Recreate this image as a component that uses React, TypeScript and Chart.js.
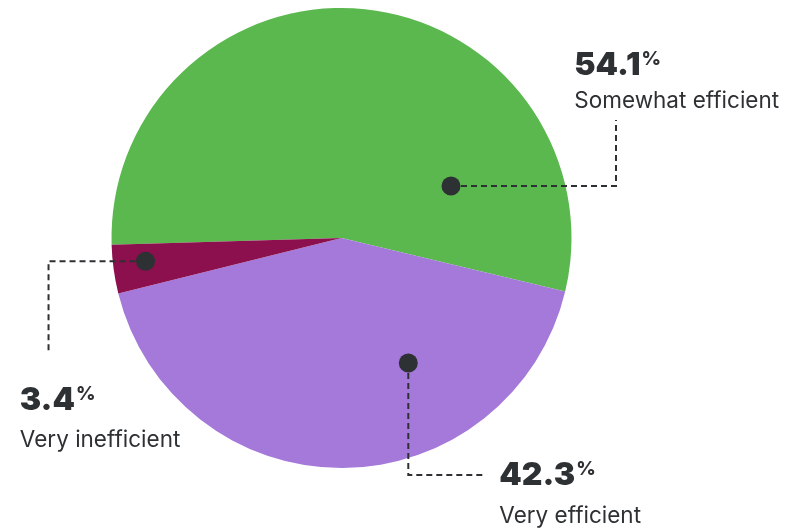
import React, { useEffect, useRef } from "react";
import { Chart, registerables } from "chart.js";

Chart.register(...registerables);

// ---- data ----
const categories = ["Somewhat efficient", "Very efficient", "Very inefficient"];
const shares = [54.1, 42.3, 3.4];
const sliceColors = ["#5bb84f", "#a479d9", "#8c0f4e"];

// ---- annotation layout (style only) ----
// dot placed inside each slice at a fraction of its angle span and radius;
// leader made of segments relative to the dot; text relative to leader end
const dotAngleFrac = [0.801, 0.3175, 0.587];
const dotRadiusFrac = [0.527, 0.6165, 0.858];
const leaderSegments = [
  [[165, 0], [0, -66]],
  [[0, 112], [78, 0]],
  [[-97, 0], [0, 92]],
];
const numberOffset = [[-41.7, -44.7], [13, 10.3], [-28.7, 57]];
const labelOffset = [[-41.7, -12.5], [13, 48], [-28.7, 94]];

const TEXT = "#2e3133";
const FONT = "Inter, 'Noto Sans', sans-serif";

const calloutPlugin = {
  id: "callouts",
  afterDatasetsDraw(chart: any) {
    const ctx = chart.ctx as CanvasRenderingContext2D;
    const meta = chart.getDatasetMeta(0);
    meta.data.forEach((arc: any, i: number) => {
      const { x, y, startAngle, endAngle, outerRadius } = arc.getProps(
        ["x", "y", "startAngle", "endAngle", "outerRadius"],
        true
      );
      const a = startAngle + (endAngle - startAngle) * dotAngleFrac[i];
      const r = outerRadius * dotRadiusFrac[i];
      const dx = x + Math.cos(a) * r;
      const dy = y + Math.sin(a) * r;

      // leader
      ctx.save();
      ctx.strokeStyle = TEXT;
      ctx.lineWidth = 2;
      ctx.setLineDash([6, 4]);
      ctx.beginPath();
      let px = dx;
      let py = dy;
      ctx.moveTo(px, py);
      leaderSegments[i].forEach(([sx, sy]) => {
        px += sx;
        py += sy;
        ctx.lineTo(px, py);
      });
      ctx.stroke();
      ctx.restore();

      // dot
      ctx.save();
      ctx.fillStyle = TEXT;
      ctx.beginPath();
      ctx.arc(dx, dy, 9.5, 0, Math.PI * 2);
      ctx.fill();
      ctx.restore();

      // texts
      ctx.save();
      ctx.fillStyle = TEXT;
      ctx.textBaseline = "alphabetic";
      ctx.textAlign = "left";
      const nx = px + numberOffset[i][0];
      const ny = py + numberOffset[i][1];
      const numText = shares[i].toFixed(1);
      ctx.font = `900 32px ${FONT}`;
      ctx.fillText(numText, nx, ny);
      const w = ctx.measureText(numText).width;
      ctx.font = `800 19px ${FONT}`;
      ctx.fillText("%", nx + w + 1, ny - 10);
      ctx.font = `400 22.5px ${FONT}`;
      ctx.fillText(categories[i], px + labelOffset[i][0], py + labelOffset[i][1]);
      ctx.restore();
    });
  },
};

export default function App() {
  const canvasRef = useRef<HTMLCanvasElement | null>(null);

  useEffect(() => {
    if (!canvasRef.current) return;
    const chart = new Chart(canvasRef.current, {
      type: "pie",
      data: {
        labels: categories,
        datasets: [
          {
            data: shares,
            backgroundColor: sliceColors,
            borderWidth: 0,
          },
        ],
      },
      options: {
        animation: false,
        responsive: false,
        rotation: 268.3,
        layout: { padding: { top: 8, bottom: 60, left: 111, right: 223 } },
        plugins: {
          legend: { display: false },
          tooltip: { enabled: false },
        },
      },
      plugins: [calloutPlugin],
    });
    return () => chart.destroy();
  }, []);

  return (
    <div style={{ position: "fixed", left: 0, top: 0, width: 795, height: 528, background: "#fff" }}>
      <canvas ref={canvasRef} width={795} height={528} style={{ display: "block" }} />
    </div>
  );
}
